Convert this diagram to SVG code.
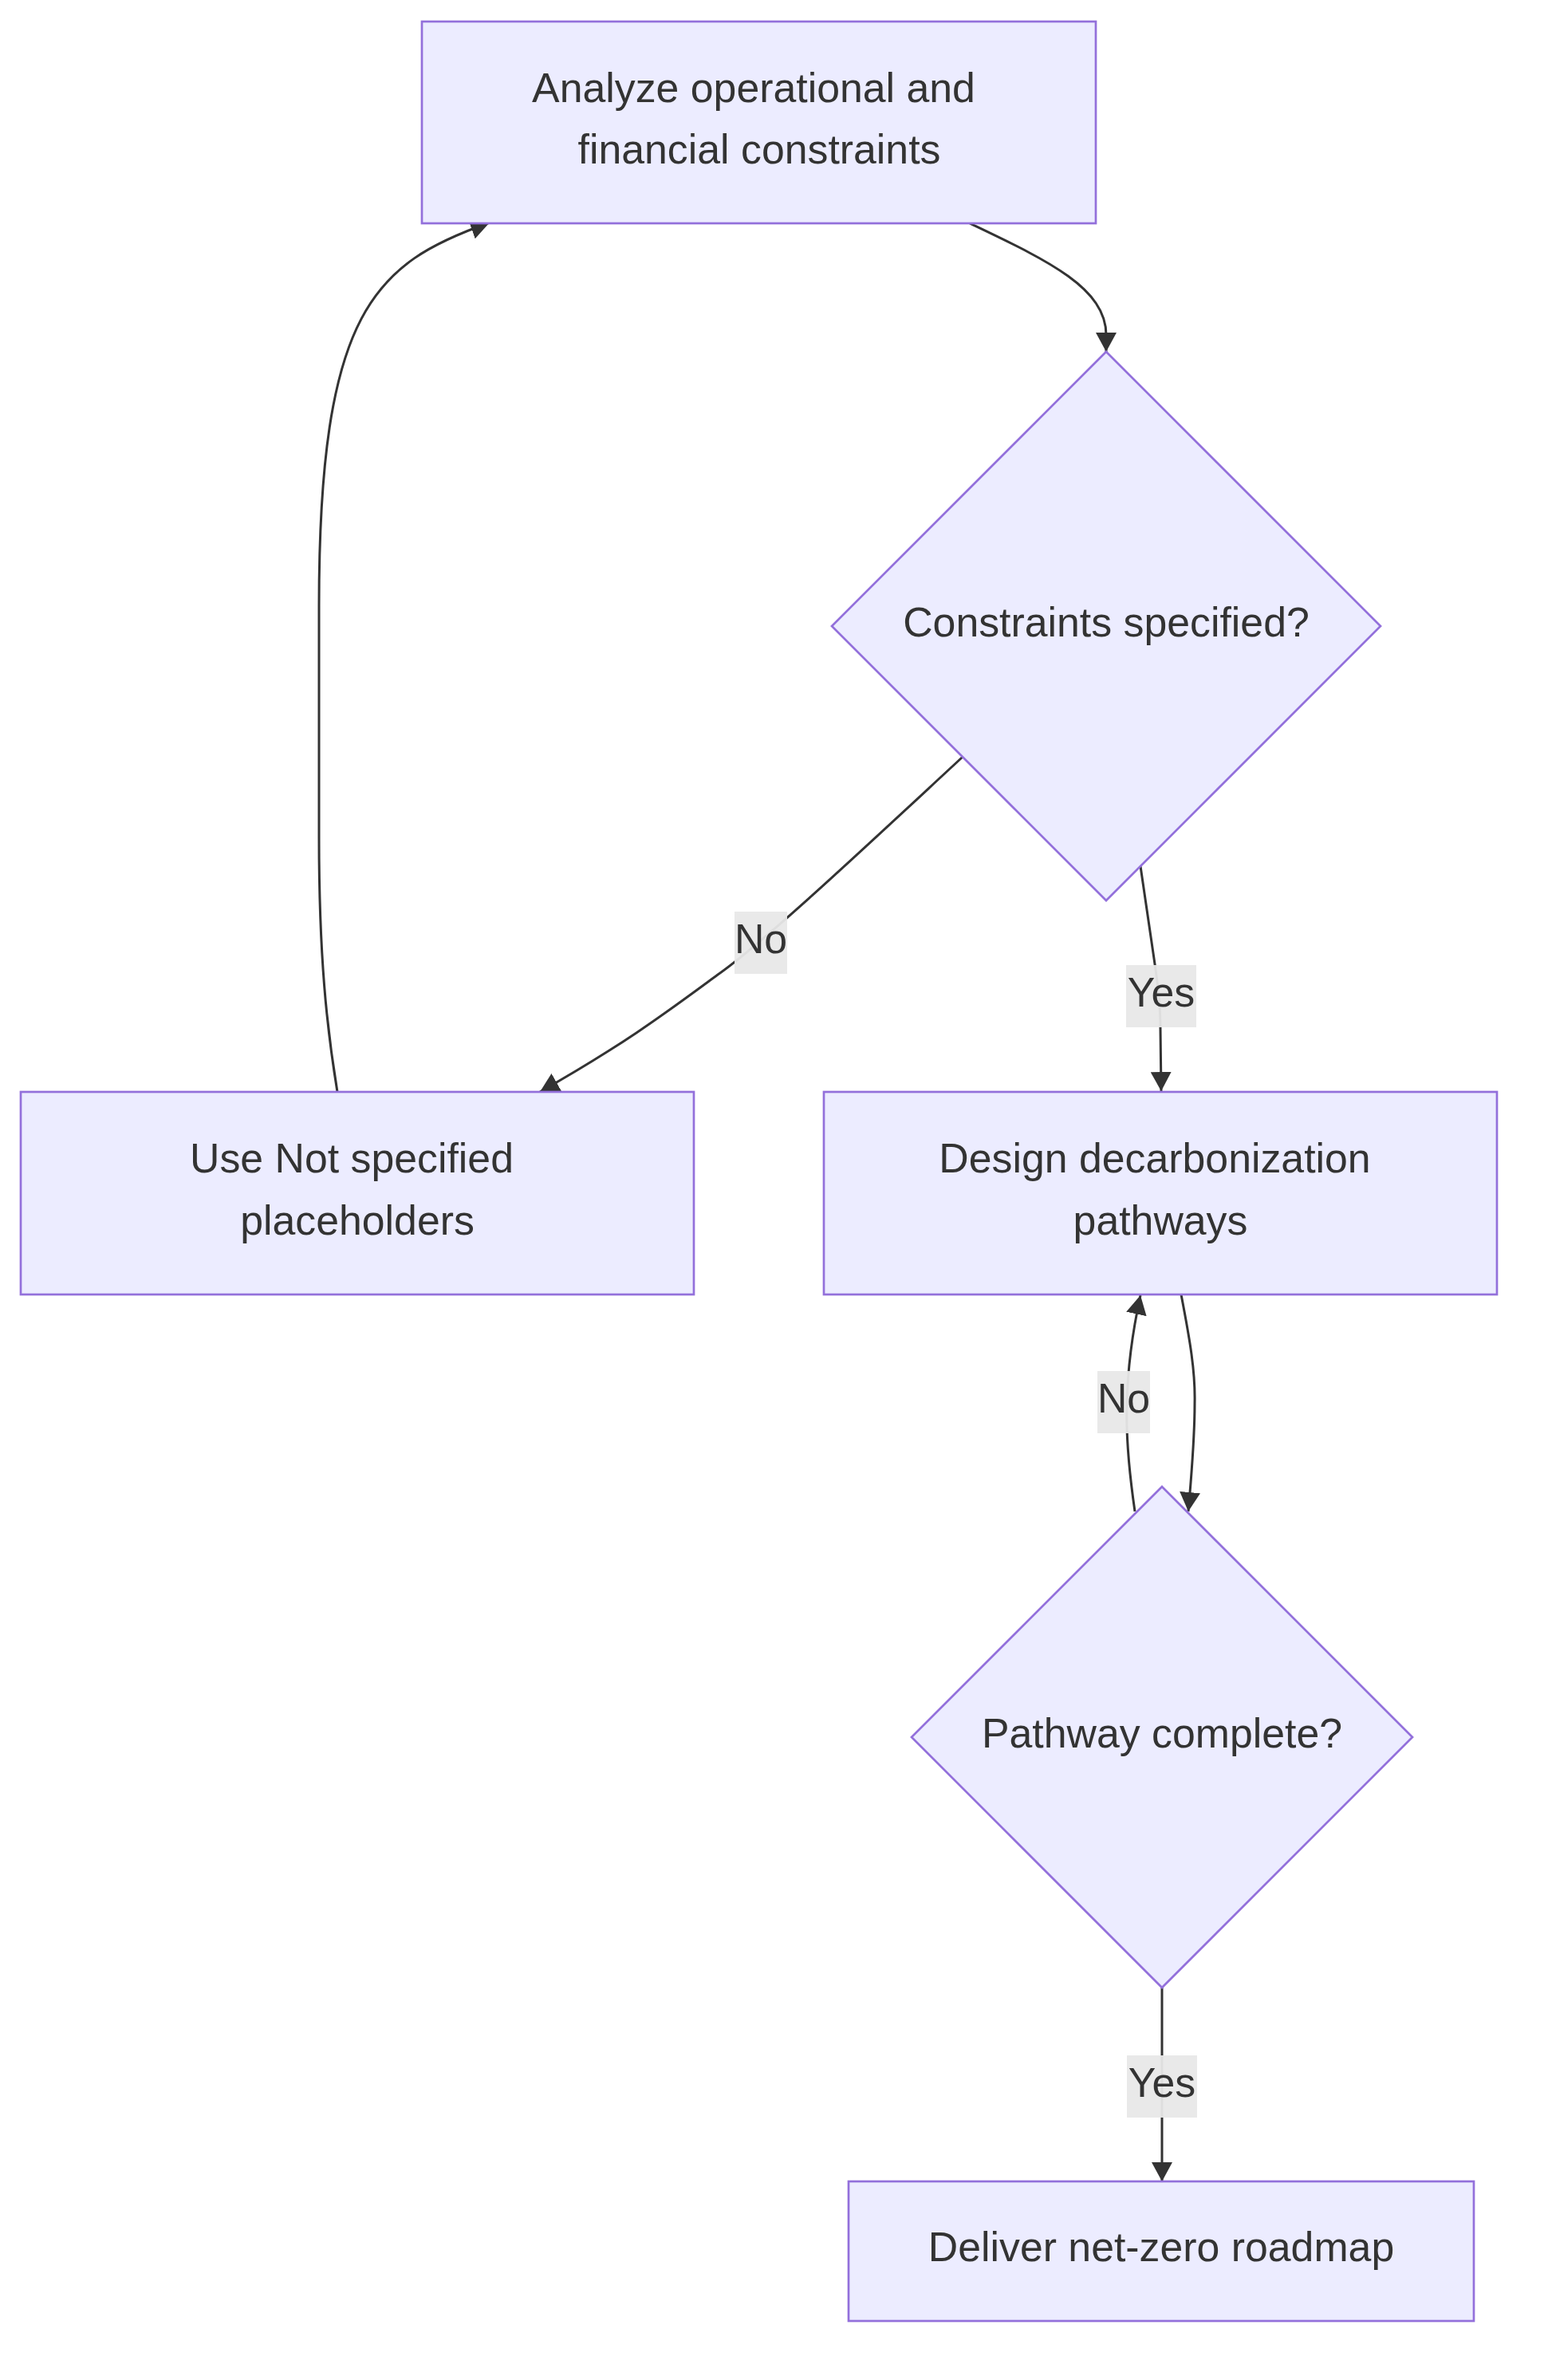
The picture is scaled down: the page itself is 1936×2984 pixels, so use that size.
<svg xmlns="http://www.w3.org/2000/svg" width="1936" height="2984" viewBox="0 0 1936 2984">
<style>
.node{fill:#ECECFF;stroke:#9370DB;stroke-width:2.7}
.edge{fill:none;stroke:#333333;stroke-width:3}
.lbl{fill:#e8e8e8;opacity:0.95}
text{font-family:"Liberation Sans",Arial,sans-serif;font-size:51.8px;fill:#333333;text-anchor:middle}
</style>
<defs>
<marker id="arrow" viewBox="0 0 24 26" refX="24" refY="13" markerWidth="24" markerHeight="26" markerUnits="userSpaceOnUse" orient="auto">
<path d="M0,0 L24,13 L0,26 z" fill="#333333"/>
</marker>
</defs>
<rect width="1936" height="2984" fill="#ffffff"/>
<g id="edges">
<path class="edge" d="M1216,280 C1310,325 1387,360 1387,420 L1387,441" marker-end="url(#arrow)"/>
<path class="edge" d="M1207,949 C1100,1048 960,1180 900,1222 C840,1266 785,1308 677,1369" marker-end="url(#arrow)"/>
<path class="edge" d="M1430,1086 L1446,1195 C1452,1235 1455,1260 1455,1290 L1456,1368" marker-end="url(#arrow)"/>
<path class="edge" d="M1481,1623 C1492,1680 1499,1720 1498,1760 C1498,1800 1494,1850 1490,1895" marker-end="url(#arrow)"/>
<path class="edge" d="M1423,1895 C1415,1840 1412,1790 1413,1760 C1414,1710 1420,1670 1430,1624" marker-end="url(#arrow)"/>
<path class="edge" d="M1457,2492 L1457,2735" marker-end="url(#arrow)"/>
<path class="edge" d="M423,1369 C410,1290 400,1200 400,1050 L400,760 C400,390 470,330 614,279" marker-end="url(#arrow)"/>
</g>
<g id="edge-labels">
<rect class="lbl" x="921" y="1143" width="66" height="78"/>
<text x="954" y="1195">No</text>
<rect class="lbl" x="1412" y="1210" width="88" height="78"/>
<text x="1456" y="1262">Yes</text>
<rect class="lbl" x="1376" y="1719" width="66" height="78"/>
<text x="1409" y="1771">No</text>
<rect class="lbl" x="1413" y="2577" width="88" height="78"/>
<text x="1457" y="2629">Yes</text>
</g>
<g id="nodeA">
<rect class="node" x="529" y="27" width="845" height="253"/>
<text x="945" y="127.5">Analyze operational and</text>
<text x="952" y="204.5">financial constraints</text>
</g>
<g id="nodeD1">
<polygon class="node" points="1387,441 1731,785 1387,1129 1043,785"/>
<text x="1387" y="798">Constraints specified?</text>
</g>
<g id="nodeB">
<rect class="node" x="26" y="1369" width="844" height="254"/>
<text x="441" y="1470">Use Not specified</text>
<text x="448" y="1548">placeholders</text>
</g>
<g id="nodeC">
<rect class="node" x="1033" y="1369" width="844" height="254"/>
<text x="1448" y="1470">Design decarbonization</text>
<text x="1455" y="1548">pathways</text>
</g>
<g id="nodeD2">
<polygon class="node" points="1457,1864 1771,2178 1457,2492 1143,2178"/>
<text x="1457" y="2191">Pathway complete?</text>
</g>
<g id="nodeE">
<rect class="node" x="1064" y="2735" width="784" height="175"/>
<text x="1456" y="2835">Deliver net-zero roadmap</text>
</g>
</svg>
